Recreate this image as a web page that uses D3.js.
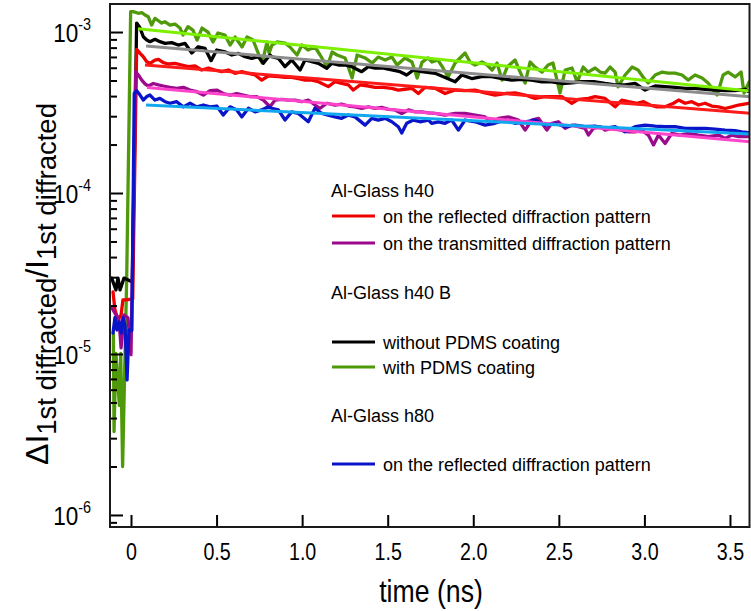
<!DOCTYPE html>
<html>
<head>
<meta charset="utf-8">
<script src="https://cdn.jsdelivr.net/npm/d3@7"></script>
<style>
  html, body { margin: 0; padding: 0; background: #fff; }
  svg { display: block; }
  .tick-num { font-family: "Liberation Sans", Arial, sans-serif; }
  .legend text { font-family: "Liberation Sans", Arial, sans-serif; font-size: 18px; fill: #000; }
</style>
</head>
<body>
<svg id="chart" width="751" height="611"></svg>
<script>
// Transient diffraction signal ΔI/I versus delay time, values in units of 1e-4.
const UNIT = 1e-4;

// [time (ns), ΔI/I ×1e-4]
const greenPDMS = [
  [-0.103,0.135],[-0.099,0.033],[-0.088,0.101],[-0.068,0.048],[-0.060,0.101],[-0.049,0.020],[-0.025,0.302],
  [-0.002,13.4],[0.013,13.38],[0.043,13.07],[0.063,13.19],[0.082,12.75],[0.101,12.43],[0.121,11.05],[0.140,12.16],
  [0.160,11.75],[0.179,11.37],[0.199,11.58],[0.228,11.05],[0.257,11.21],[0.286,10.59],[0.304,9.58],[0.333,10.79],
  [0.362,10.29],[0.386,8.92],[0.415,10.59],[0.450,10.0],[0.479,8.67],[0.508,9.86],[0.549,9.58],[0.579,8.30],
  [0.608,9.31],[0.649,8.07],[0.678,9.31],[0.713,8.92],[0.766,6.42],[0.795,8.67],[0.807,7.41],[0.824,8.30],
  [0.853,8.67],[0.900,8.54],[0.929,8.07],[0.970,7.20],[0.999,8.30],[1.034,7.73],[1.075,8.07],[1.105,7.20],
  [1.146,6.06],[1.175,7.51],[1.204,7.20],[1.251,6.90],[1.292,5.18],[1.321,7.20],[1.368,6.90],[1.409,6.42],
  [1.444,6.99],[1.485,6.70],[1.525,6.99],[1.555,6.24],[1.601,6.90],[1.642,6.51],[1.672,5.18],[1.701,6.51],
  [1.736,6.90],[1.759,6.51],[1.794,6.70],[1.823,5.98],[1.853,5.26],[1.894,6.42],[1.952,7.41],[1.981,6.51],
  [2.011,6.24],[2.051,6.51],[2.081,6.24],[2.110,5.81],[2.139,6.42],[2.168,5.03],[2.198,6.06],[2.244,6.70],
  [2.274,5.64],[2.303,4.82],[2.332,6.51],[2.361,6.06],[2.402,5.64],[2.437,6.24],[2.466,6.42],[2.507,4.18],
  [2.537,5.81],[2.577,5.98],[2.607,4.89],[2.642,6.06],[2.671,5.64],[2.712,5.98],[2.741,5.64],[2.770,5.56],
  [2.800,6.06],[2.829,5.64],[2.846,4.56],[2.887,5.41],[2.928,6.06],[2.963,5.81],[2.992,5.26],[3.022,4.82],
  [3.063,5.41],[3.104,5.64],[3.138,5.56],[3.179,5.56],[3.220,5.41],[3.255,5.03],[3.296,5.41],[3.337,5.18],
  [3.372,4.82],[3.425,4.06],[3.460,5.41],[3.489,5.64],[3.530,5.26],[3.565,5.64],[3.582,4.18],[3.612,4.89]
];

const blackNoPDMS = [
  [-0.113,0.296],[-0.088,0.250],[-0.076,0.296],[-0.064,0.250],[-0.041,0.296],[0.008,0.28],
  [0.033,11.37],[0.053,10.59],[0.072,9.34],[0.092,8.92],[0.111,8.71],[0.140,9.01],[0.169,8.71],[0.199,8.50],
  [0.238,8.59],[0.276,8.30],[0.316,8.50],[0.355,7.41],[0.393,8.10],[0.432,7.92],[0.468,6.64],[0.501,7.73],
  [0.549,7.54],[0.589,7.20],[0.627,7.37],[0.666,7.02],[0.705,6.87],[0.744,7.02],[0.773,6.39],[0.812,7.20],
  [0.822,7.02],[0.861,6.87],[0.900,6.09],[0.939,6.70],[0.988,5.81],[1.017,6.70],[1.056,6.54],[1.095,6.39],
  [1.144,5.96],[1.173,6.39],[1.212,6.24],[1.251,6.24],[1.290,6.09],[1.348,5.67],[1.387,6.09],[1.426,5.96],
  [1.475,5.96],[1.524,5.81],[1.572,5.67],[1.611,5.41],[1.650,5.81],[1.699,5.67],[1.777,5.54],[1.894,4.91],
  [1.933,5.41],[1.991,5.14],[2.050,5.28],[2.108,5.28],[2.167,5.14],[2.225,5.03],[2.284,5.08],[2.342,5.03],
  [2.400,4.91],[2.459,4.91],[2.517,4.79],[2.576,4.84],[2.634,4.91],[2.712,4.91],[2.770,4.79],[2.829,4.69],
  [2.887,4.69],[2.946,4.79],[3.004,4.36],[3.063,4.62],[3.121,4.57],[3.179,4.53],[3.238,4.47],[3.296,4.47],
  [3.354,4.41],[3.413,4.36],[3.472,4.32],[3.530,4.32],[3.589,4.41],[3.606,4.28]
];

const redH40Reflected = [
  [-0.105,0.243],[-0.094,0.188],[-0.076,0.163],[-0.058,0.175],[-0.047,0.217],[-0.029,0.217],[0.010,0.22],
  [0.033,7.81],[0.053,7.37],[0.072,7.02],[0.092,6.54],[0.111,6.39],[0.140,6.70],[0.160,6.77],[0.189,6.45],
  [0.218,6.33],[0.257,6.39],[0.296,6.24],[0.335,6.09],[0.374,6.15],[0.413,5.81],[0.452,5.96],[0.491,5.81],
  [0.530,5.67],[0.569,5.81],[0.608,5.54],[0.647,5.67],[0.686,5.54],[0.725,5.41],[0.764,5.03],[0.802,5.33],
  [0.822,5.33],[0.861,5.28],[0.900,5.23],[0.939,5.23],[0.978,5.14],[1.017,5.03],[1.056,5.03],[1.095,4.91],
  [1.153,4.58],[1.192,4.91],[1.231,4.79],[1.270,4.69],[1.299,4.36],[1.338,4.69],[1.387,4.62],[1.426,4.53],
  [1.475,4.53],[1.524,4.47],[1.562,4.36],[1.601,4.41],[1.641,4.47],[1.679,4.15],[1.718,4.53],[1.777,4.47],
  [1.835,4.15],[1.894,4.36],[1.952,4.32],[2.011,4.36],[2.069,4.19],[2.127,4.06],[2.186,4.15],[2.244,4.19],
  [2.303,4.06],[2.361,3.87],[2.420,3.97],[2.459,3.97],[2.517,3.97],[2.576,3.61],[2.614,3.82],[2.673,3.87],
  [2.712,3.97],[2.770,3.87],[2.829,3.43],[2.868,3.78],[2.907,3.69],[2.956,3.61],[2.995,3.69],[3.033,3.52],
  [3.072,3.43],[3.121,3.43],[3.170,3.61],[3.200,3.78],[3.238,3.61],[3.277,3.69],[3.316,3.52],[3.354,3.61],
  [3.394,3.47],[3.433,3.43],[3.472,3.35],[3.511,3.43],[3.550,3.52],[3.608,3.61]
];

const purpleH40Transmitted = [
  [-0.111,0.193],[-0.088,0.175],[-0.070,0.163],[-0.058,0.109],[-0.041,0.175],[-0.018,0.168],[0.000,0.099],
  [0.027,5.67],[0.043,5.41],[0.063,5.03],[0.082,4.76],[0.101,4.62],[0.130,4.79],[0.160,4.69],[0.189,4.62],
  [0.228,4.53],[0.267,4.47],[0.306,4.53],[0.345,4.36],[0.384,4.26],[0.423,4.06],[0.462,4.32],[0.501,4.36],
  [0.539,4.15],[0.579,4.06],[0.618,4.15],[0.656,4.06],[0.695,3.97],[0.735,3.97],[0.773,3.78],[0.802,3.52],
  [0.812,3.43],[0.842,3.78],[0.881,3.82],[0.919,3.78],[0.958,3.78],[0.998,3.69],[1.036,3.78],[1.075,3.52],
  [1.105,3.36],[1.144,3.61],[1.192,3.52],[1.231,3.57],[1.270,3.47],[1.309,3.43],[1.348,3.36],[1.387,3.43],
  [1.426,3.36],[1.465,3.40],[1.504,3.31],[1.543,3.28],[1.582,3.12],[1.621,3.28],[1.660,3.19],[1.699,3.19],
  [1.738,3.15],[1.777,3.12],[1.835,3.05],[1.894,3.12],[1.952,3.12],[2.011,3.05],[2.069,2.97],[2.108,2.71],
  [2.147,2.91],[2.205,2.97],[2.264,2.84],[2.303,2.46],[2.342,2.84],[2.381,2.91],[2.430,2.46],[2.459,2.71],
  [2.497,2.77],[2.537,2.52],[2.576,2.64],[2.614,2.58],[2.653,2.52],[2.673,2.29],[2.702,2.52],[2.741,2.58],
  [2.770,2.46],[2.809,2.52],[2.868,2.46],[2.907,2.40],[2.946,2.40],[2.985,2.46],[3.023,2.29],[3.053,1.99],
  [3.082,2.29],[3.121,2.03],[3.160,2.35],[3.209,2.29],[3.257,2.35],[3.316,2.29],[3.374,2.24],[3.433,2.29],
  [3.472,2.18],[3.511,2.29],[3.550,2.24],[3.608,2.24]
];

const blueH80Reflected = [
  [-0.105,0.135],[-0.094,0.168],[-0.082,0.141],[-0.070,0.158],[-0.058,0.135],[-0.047,0.168],[-0.035,0.151],
  [-0.023,0.069],[-0.012,0.141],[0.005,0.14],
  [0.019,4.16],[0.033,4.32],[0.053,4.06],[0.072,3.78],[0.092,3.97],[0.111,4.06],[0.140,3.78],[0.169,3.87],
  [0.199,3.69],[0.228,3.61],[0.267,3.69],[0.306,3.43],[0.345,3.61],[0.384,3.43],[0.423,3.52],[0.462,3.43],
  [0.501,3.47],[0.539,3.05],[0.579,3.43],[0.618,3.28],[0.647,2.97],[0.686,3.36],[0.725,3.19],[0.764,3.28],
  [0.802,3.43],[0.822,3.36],[0.861,3.28],[0.900,2.84],[0.939,3.19],[0.978,3.12],[1.036,2.77],[1.075,3.36],
  [1.115,3.12],[1.153,3.05],[1.192,2.97],[1.231,2.91],[1.270,3.05],[1.309,2.97],[1.368,2.64],[1.407,2.91],
  [1.445,2.84],[1.485,2.91],[1.524,2.77],[1.562,2.58],[1.582,2.36],[1.611,2.71],[1.650,2.84],[1.689,2.77],
  [1.738,2.84],[1.757,2.71],[1.796,2.77],[1.835,2.71],[1.874,2.84],[1.913,2.46],[1.952,2.84],[2.011,2.77],
  [2.069,2.64],[2.127,2.71],[2.186,2.84],[2.244,2.71],[2.303,2.77],[2.361,2.84],[2.420,2.64],[2.478,2.71],
  [2.537,2.58],[2.595,2.64],[2.653,2.58],[2.712,2.60],[2.770,2.52],[2.829,2.58],[2.887,2.40],[2.946,2.58],
  [3.004,2.64],[3.063,2.60],[3.121,2.58],[3.179,2.58],[3.238,2.52],[3.296,2.52],[3.354,2.52],[3.413,2.49],
  [3.472,2.46],[3.530,2.44],[3.569,2.40],[3.608,2.37]
];

// Single-exponential fits (straight in log scale): [time, value ×1e-4] end points
const fitGreen = [[0.041,10.48],[3.617,4.30]];
const fitGrey  = [[0.088,8.18],[3.617,3.96]];
const fitRed   = [[0.082,6.24],[3.617,3.13]];
const fitPink  = [[0.094,4.53],[3.617,2.08]];
const fitCyan  = [[0.088,3.52],[3.617,2.325]];

const xTicks = [0, 0.5, 1.0, 1.5, 2.0, 2.5, 3.0, 3.5];
const xTickLabels = ["0", "0.5", "1.0", "1.5", "2.0", "2.5", "3.0", "3.5"];
const yMajorTicks = [1e-6, 1e-5, 1e-4, 1e-3];
const yMajorExponents = ["-6", "-5", "-4", "-3"];

const legendGroups = [
  { title: "Al-Glass h40", items: [
      { label: "on the reflected diffraction pattern", color: "#ee0000" },
      { label: "on the transmitted diffraction pattern", color: "#9c0a8c" } ] },
  { title: "Al-Glass h40 B", items: [
      { label: "without PDMS coating", color: "#000000" },
      { label: "with PDMS coating", color: "#4f9a0a" } ] },
  { title: "Al-Glass h80", items: [
      { label: "on the reflected diffraction pattern", color: "#0a14c8" } ] }
];

// ---- layout
const svg = d3.select("#chart");
const plotLeft = 110, plotRight = 750, plotTop = 4, plotBottom = 527;

const x = d3.scaleLinear().domain([-0.1227, 3.617]).range([plotLeft, plotRight]);
const y = d3.scaleLog().domain([8.42e-7, 1.493e-3]).range([plotBottom, plotTop]);

svg.append("defs").append("clipPath").attr("id", "plotclip")
  .append("rect").attr("x", plotLeft).attr("y", plotTop)
  .attr("width", plotRight - plotLeft).attr("height", plotBottom - plotTop);

const line = d3.line().x(d => x(d[0])).y(d => y(d[1] * UNIT));

const plot = svg.append("g").attr("clip-path", "url(#plotclip)");

const dataSeries = [
  { data: greenPDMS, color: "#4f9a0a" },
  { data: blackNoPDMS, color: "#000000" },
  { data: redH40Reflected, color: "#ee0000" },
  { data: purpleH40Transmitted, color: "#9c0a8c" },
  { data: blueH80Reflected, color: "#0a14c8" }
];
dataSeries.forEach(s => {
  plot.append("path").attr("d", line(s.data))
    .attr("fill", "none").attr("stroke", s.color).attr("stroke-width", 3.3)
    .attr("stroke-linejoin", "round").attr("stroke-linecap", "round");
});

const fits = [
  { data: fitGreen, color: "#7cf000" },
  { data: fitGrey, color: "#8c8c8c" },
  { data: fitRed, color: "#ff1a1a" },
  { data: fitPink, color: "#ff44cc" },
  { data: fitCyan, color: "#12a8f0" }
];
fits.forEach(f => {
  plot.append("path").attr("d", line(f.data))
    .attr("fill", "none").attr("stroke", f.color).attr("stroke-width", 3);
});

// ---- axes
const minorTicks = [];
for (let e = -7; e <= -3; e++) {
  for (let k = 2; k <= 9; k++) {
    const v = k * Math.pow(10, e);
    if (v >= y.domain()[0] && v <= y.domain()[1]) minorTicks.push(v);
  }
}

const yMinorAxis = svg.append("g").attr("transform", `translate(${plotLeft},0)`)
  .call(d3.axisLeft(y).tickValues(minorTicks).tickSizeInner(-7).tickSizeOuter(0).tickFormat(""));
const yMajorAxis = svg.append("g").attr("transform", `translate(${plotLeft},0)`)
  .call(d3.axisLeft(y).tickValues(yMajorTicks).tickSizeInner(-13).tickSizeOuter(0).tickFormat(""));
[yMinorAxis, yMajorAxis].forEach(g => {
  g.select(".domain").remove();
  g.selectAll(".tick line").attr("stroke", "#000").attr("stroke-width", 2);
});

// y tick labels: 10 with a superscript exponent, slightly condensed
yMajorTicks.forEach((v, i) => {
  const t = svg.append("text").attr("class", "tick-num")
    .attr("transform", `translate(91,${y(v) + 10}) scale(0.9,1)`)
    .attr("text-anchor", "end")
    .attr("font-size", 25).attr("fill", "#000");
  t.append("tspan").text("10");
  t.append("tspan").attr("font-size", 16).attr("dy", -12).text(yMajorExponents[i]);
});

const xAxis = svg.append("g").attr("transform", `translate(0,${plotBottom})`)
  .call(d3.axisBottom(x).tickValues(xTicks).tickSizeInner(-12).tickSizeOuter(0).tickPadding(16)
    .tickFormat((d, i) => xTickLabels[i]));
xAxis.select(".domain").remove();
xAxis.selectAll(".tick line").attr("stroke", "#000").attr("stroke-width", 2);
xAxis.selectAll(".tick text").attr("class", "tick-num").attr("font-size", 24).attr("fill", "#000")
  .attr("transform", "scale(0.82,1)");

// frame
svg.append("rect").attr("x", plotLeft).attr("y", plotTop)
  .attr("width", plotRight - plotLeft - 0.5).attr("height", plotBottom - plotTop)
  .attr("fill", "none").attr("stroke", "#1a1a1a").attr("stroke-width", 2);

// axis titles
svg.append("text").attr("class", "tick-num")
  .attr("transform", "translate(431,602) scale(0.86,1)")
  .attr("text-anchor", "middle")
  .attr("font-size", 31).attr("fill", "#000").text("time (ns)");

const yTitle = svg.append("text")
  .attr("transform", "translate(48,284) rotate(-90)")
  .attr("text-anchor", "middle")
  .attr("font-family", "Liberation Sans, Arial, sans-serif")
  .attr("font-size", 32).attr("fill", "#000");
yTitle.append("tspan").text("ΔI");
yTitle.append("tspan").attr("font-size", 27.5).attr("dy", 8).text("1st diffracted");
yTitle.append("tspan").attr("dy", -8).text("/I");
yTitle.append("tspan").attr("font-size", 27.5).attr("dy", 8).text("1st diffracted");

// ---- legend
const legend = svg.append("g").attr("class", "legend");
const rowY = [
  { head: 190, rows: [216, 243] },
  { head: 292, rows: [342, 367] },
  { head: 415, rows: [464] }
];
legendGroups.forEach((g, gi) => {
  legend.append("text").attr("x", 331).attr("y", rowY[gi].head + 6.5).text(g.title);
  g.items.forEach((it, ii) => {
    const ry = rowY[gi].rows[ii];
    legend.append("line").attr("x1", 332).attr("x2", 375).attr("y1", ry).attr("y2", ry)
      .attr("stroke", it.color).attr("stroke-width", 3);
    legend.append("text").attr("x", 383).attr("y", ry + 6.5).text(it.label);
  });
});
</script>
</body>
</html>
